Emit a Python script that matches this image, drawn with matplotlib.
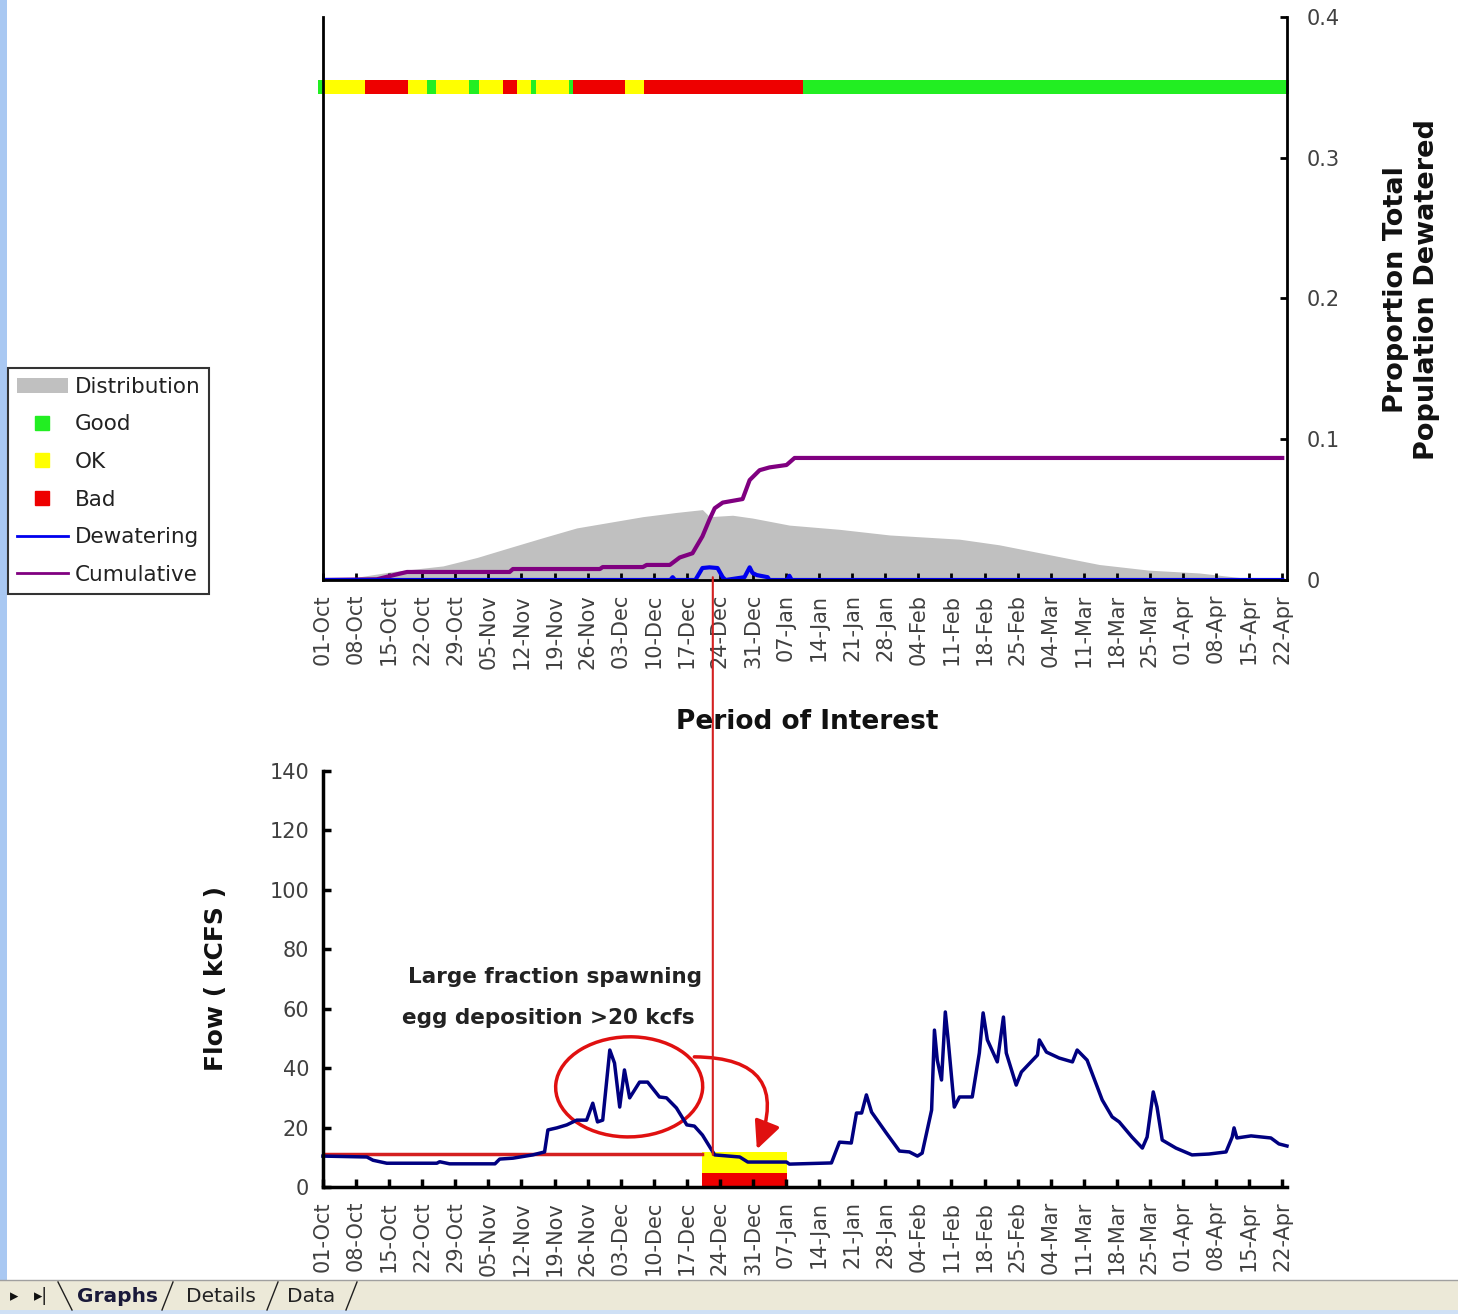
import matplotlib
matplotlib.use("Agg")
import matplotlib.pyplot as plt
from matplotlib.lines import Line2D
from matplotlib.patches import Patch, Rectangle, Ellipse, ConnectionPatch, FancyArrowPatch

# ---- data (x = days since 01-Oct) ----
tick_days = list(range(0, 204, 7))
tick_labels = ["01-Oct", "08-Oct", "15-Oct", "22-Oct", "29-Oct", "05-Nov", "12-Nov",
               "19-Nov", "26-Nov", "03-Dec", "10-Dec", "17-Dec", "24-Dec", "31-Dec",
               "07-Jan", "14-Jan", "21-Jan", "28-Jan", "04-Feb", "11-Feb", "18-Feb",
               "25-Feb", "04-Mar", "11-Mar", "18-Mar", "25-Mar", "01-Apr", "08-Apr",
               "15-Apr", "22-Apr"]

# status bar segments
seg_start = [-1, 0, 9, 18, 22, 24, 31, 33, 38, 41, 44, 45, 52, 53, 64, 68, 101.5]
seg_end = [0, 9, 18, 22, 24, 31, 33, 38, 41, 44, 45, 52, 53, 64, 68, 101.5, 204.5]
seg_status = ["Good", "OK", "Bad", "OK", "Good", "OK", "Good", "OK", "Bad", "OK",
              "Good", "OK", "Good", "Bad", "OK", "Bad", "Good"]

dist_days = [0, 7.2, 14.8, 25.4, 32.6, 39.5, 46.5, 53.7, 60.7, 67.7, 74.8, 80.3,
             81.8, 86.7, 90.9, 98.7, 109.3, 119.9, 134.7, 143.1, 153.7, 164.3,
             174.8, 185.4, 196, 203]
dist_vals = [0, 0.002, 0.006, 0.010, 0.016, 0.023, 0.030, 0.037, 0.041, 0.045, 0.048,
             0.050, 0.045, 0.046, 0.044, 0.039, 0.036, 0.032, 0.029, 0.025, 0.018,
             0.011, 0.007, 0.005, 0.001, 0]

cum_days = [0, 11.4, 15.6, 17.8, 39.5, 40.2, 58.6, 59.2, 67.7, 68.5, 73.4, 75.5, 78.2,
            80.3, 81.8, 82.9, 84.6, 88.8, 90.3, 92.4, 94.5, 98.1, 99.8, 203]
cum_vals = [0, 0.0005, 0.004, 0.0057, 0.0057, 0.0078, 0.0078, 0.0092, 0.0092, 0.0107,
            0.0107, 0.016, 0.019, 0.031, 0.043, 0.051, 0.055, 0.0575, 0.071, 0.078,
            0.080, 0.0817, 0.0867, 0.0867]

dew_days = [0, 73.5, 74.0, 74.5, 78.8, 80.3, 81.8, 83.5, 84.6, 85.2, 89.2, 90.3, 90.9,
            91.8, 94.1, 94.5, 98.3, 98.7, 99.2, 203]
dew_vals = [0, 0, 0.002, 0, 0, 0.0085, 0.009, 0.0085, 0.002, 0, 0.002, 0.009, 0.005,
            0.0035, 0.002, 0, 0, 0.003, 0, 0]

flow_days = [0, 9.3, 10.6, 13.5, 24.1, 24.7, 26.8, 36.4, 37.4, 40.2, 44.4, 46.9, 47.6,
             49.5, 51.6, 53.7, 55.8, 57.1, 58.1, 59.2, 60.7, 61.7, 62.8, 63.8, 64.9,
             67.0, 68.7, 71.2, 72.7, 74.8, 77.0, 78.6, 80.3, 82.9, 88.2, 89.9, 98.1,
             98.7, 107.6, 109.3, 111.8, 112.9, 114.0, 115.0, 116.1, 119.2, 122.0,
             124.1, 125.8, 126.8, 128.8, 129.4, 130.0, 130.9, 131.7, 132.3, 133.6,
             134.7, 137.4, 138.9, 139.7, 140.6, 142.7, 144.0, 144.6, 146.7, 147.8,
             151.2, 151.6, 153.1, 155.8, 158.6, 159.6, 161.7, 164.9, 167.0, 168.5,
             171.2, 173.4, 174.4, 175.7, 176.5, 177.6, 180.5, 183.9, 187.5, 191.1,
             192.4, 192.8, 193.4, 196.4, 200.6, 202.3, 204.0]
flow_vals = [10.4, 10.1, 9.0, 8.0, 8.0, 8.5, 7.8, 7.8, 9.4, 9.7, 10.8, 11.8, 19.2,
             19.9, 20.9, 22.5, 22.5, 28.2, 21.9, 22.5, 46.1, 41.7, 26.9, 39.4, 30.0,
             35.3, 35.3, 30.3, 30.0, 26.6, 20.9, 20.5, 17.5, 10.8, 10.1, 8.4, 8.4,
             7.7, 8.1, 15.1, 14.8, 24.9, 24.9, 31.0, 25.2, 18.2, 12.1, 11.8, 10.4,
             11.4, 25.9, 52.8, 42.7, 36.0, 58.9, 49.5, 26.9, 30.3, 30.3, 45.1, 58.6,
             49.5, 42.1, 57.2, 45.1, 34.3, 38.7, 44.4, 49.5, 45.4, 43.4, 42.1, 46.1,
             42.7, 29.3, 23.6, 21.9, 16.8, 13.1, 16.8, 32.0, 26.9, 15.8, 13.1, 10.8,
             11.1, 11.8, 16.8, 19.9, 16.5, 17.2, 16.5, 14.5, 13.8]

threshold_days = [0, 80.2]
threshold_vals = [11.1, 11.1]

poi_start, poi_end = 80.2, 98.3      # period of interest (days)
poi_ok_top, poi_bad_top = 11.8, 4.7

status_colors = {"Good": "#22ee22", "OK": "#ffff00", "Bad": "#ee0000"}
TXT = "#404040"

fig = plt.figure(figsize=(14.58, 13.14), dpi=100)
fig.patch.set_facecolor("white")

# ---------------- top chart ----------------
ax1 = fig.add_axes([0.2215, 0.5586, 0.6612, 0.4285])
ax1.fill_between(dist_days, dist_vals, 0, color="#c0c0c0", lw=0)
ax1.plot(cum_days, cum_vals, color="#800080", lw=3)
ax1.plot(dew_days, dew_vals, color="#0000ee", lw=3)
ax1.barh(0.35, [e - s for s, e in zip(seg_start, seg_end)], left=seg_start,
         height=0.01, color=[status_colors[s] for s in seg_status], lw=0, clip_on=False)
ax1.set_xlim(0, 204)
ax1.set_ylim(0, 0.4)
ax1.yaxis.tick_right()
ax1.set_yticks([0, 0.1, 0.2, 0.3, 0.4])
ax1.set_yticklabels(["0", "0.1", "0.2", "0.3", "0.4"])
ax1.set_xticks(tick_days)
ax1.set_xticklabels(tick_labels, rotation=90)
ax1.spines["top"].set_visible(False)
for s in ["left", "right", "bottom"]:
    ax1.spines[s].set_linewidth(2)
ax1.tick_params(axis="x", direction="in", length=5, width=2, labelsize=15,
                labelcolor=TXT, pad=10)
ax1.tick_params(axis="y", direction="in", length=5, width=2, labelsize=15,
                labelcolor=TXT, pad=14)

fig.text(0.968, 0.7793, "Proportion Total\nPopulation Dewatered", rotation=90,
         ha="center", va="center", fontsize=19.5, fontweight="bold",
         linespacing=1.25, color="#111111")
fig.text(0.5535, 0.4505, "Period of Interest", ha="center", va="center",
         fontsize=19, fontweight="bold", color="#111111")

# ---------------- bottom chart ----------------
ax2 = fig.add_axes([0.2215, 0.09665, 0.6612, 0.3166])
ax2.bar(poi_start, poi_ok_top, width=poi_end - poi_start, align="edge",
        color="#ffff00", lw=0)
ax2.bar(poi_start, poi_bad_top, width=poi_end - poi_start, align="edge",
        color="#ee0000", lw=0)
ax2.plot(threshold_days, threshold_vals, color="#d42020", lw=2.5)
ax2.plot(flow_days, flow_vals, color="#000080", lw=2.5, clip_on=False)
ax2.set_xlim(0, 204)
ax2.set_ylim(0, 140)
ax2.set_yticks(range(0, 141, 20))
ax2.set_xticks(tick_days)
ax2.set_xticklabels(tick_labels, rotation=90)
ax2.spines["top"].set_visible(False)
ax2.spines["right"].set_visible(False)
for s in ["left", "bottom"]:
    ax2.spines[s].set_linewidth(2.5)
ax2.tick_params(axis="both", direction="in", length=6, width=2.5, labelsize=15,
                labelcolor=TXT)
ax2.tick_params(axis="x", pad=10)
ax2.tick_params(axis="y", pad=10)
ax2.set_ylabel("Flow ( kCFS )", fontsize=18, fontweight="bold", labelpad=30,
               color="#111111")

ax2.text(49.0, 70.7, "Large fraction spawning", ha="center", va="center",
         fontsize=15.5, fontweight="bold", color="#222222")
ax2.text(47.6, 56.9, "egg deposition >20 kcfs", ha="center", va="center",
         fontsize=15.5, fontweight="bold", color="#222222")
ax2.add_patch(Ellipse((64.8, 33.7), 31.1, 33.7, angle=-4, fill=False,
                      ec="#e01010", lw=2.5))
ax2.add_patch(FancyArrowPatch((78.0, 43.8), (91.6, 11.8),
                              connectionstyle="arc3,rad=-0.75",
                              arrowstyle="-|>,head_length=0.85,head_width=0.4",
                              mutation_scale=20, color="#e01010", lw=2.5))

# red vertical connector between both charts
con = ConnectionPatch(xyA=(82.5, 0.002), coordsA=ax1.transData,
                      xyB=(82.5, 10.8), coordsB=ax2.transData,
                      color="#d42020", lw=1.5)
fig.add_artist(con)

# ---------------- legend ----------------
handles = [
    Patch(facecolor="#c0c0c0", edgecolor="none"),
    Line2D([], [], ls="none", marker="s", markersize=10, color=status_colors["Good"]),
    Line2D([], [], ls="none", marker="s", markersize=10, color=status_colors["OK"]),
    Line2D([], [], ls="none", marker="s", markersize=10, color=status_colors["Bad"]),
    Line2D([], [], color="#0000ee", lw=2),
    Line2D([], [], color="#800080", lw=2),
]
labels = ["Distribution", "Good", "OK", "Bad", "Dewatering", "Cumulative"]
leg = fig.legend(handles, labels, loc="upper left", bbox_to_anchor=(0.0055, 0.7199),
                 fontsize=15.5, frameon=True, fancybox=False, edgecolor="black",
                 handlelength=2.4, handletextpad=0.3, labelspacing=0.82,
                 borderpad=0.4, borderaxespad=0)
leg.get_frame().set_linewidth(1.5)
for t in leg.get_texts():
    t.set_color("#222222")

# ---------------- window decoration ----------------
fig.add_artist(Rectangle((0, 0), 7 / 1458, 1, transform=fig.transFigure,
                         color="#a9c8f2", lw=0))
fig.add_artist(Rectangle((0, 4 / 1314), 1, 30 / 1314, transform=fig.transFigure,
                         color="#ece9d8", lw=0))
fig.add_artist(Rectangle((0, 0), 1, 4 / 1314, transform=fig.transFigure,
                         color="#cfe0f5", lw=0))
fig.add_artist(Line2D([0, 1], [34 / 1314, 34 / 1314], transform=fig.transFigure,
                      color="#a0a0a0", lw=1))
for xb, xt in [(72, 58), (162, 173), (267, 278), (346, 357)]:
    fig.add_artist(Line2D([xb / 1458, xt / 1458], [4 / 1314, 32 / 1314],
                          transform=fig.transFigure, color="#202020", lw=1))
fig.text(10 / 1458, 18 / 1314, "\u25b8", fontsize=12, va="center", color="#111111")
fig.text(34 / 1458, 18 / 1314, "\u25b8|", fontsize=12, va="center", color="#111111")
fig.text(117 / 1458, 18 / 1314, "Graphs", fontsize=14.5, fontweight="bold",
         ha="center", va="center", color="#1a1a3a")
fig.text(221 / 1458, 18 / 1314, "Details", fontsize=14.5, ha="center", va="center",
         color="#222222")
fig.text(311 / 1458, 18 / 1314, "Data", fontsize=14.5, ha="center", va="center",
         color="#222222")

fig.savefig("out.png", dpi=100)
